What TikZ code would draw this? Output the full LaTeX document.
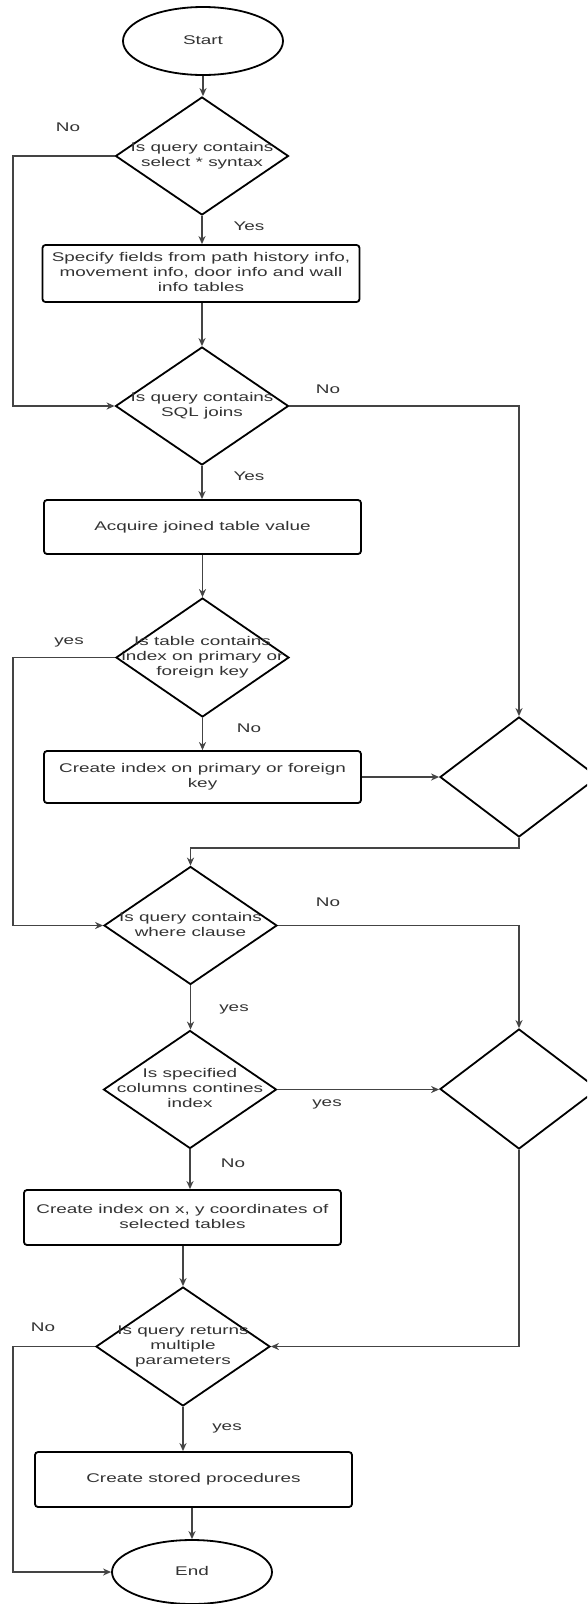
\documentclass[tikz,border=0pt]{standalone}
\usepackage{fontspec}
\setmainfont{Liberation Sans}
\usepackage{graphicx}
\usetikzlibrary{shapes.geometric,arrows.meta}
\definecolor{txtc}{HTML}{333333}
\definecolor{linec}{HTML}{444444}
\newcommand{\tx}[1]{\scalebox{1.5}[1]{\begin{tabular}{@{}c@{}}#1\end{tabular}}}
\begin{document}
\begin{tikzpicture}[x=1pt,y=-1pt,
  every node/.style={font=\fontsize{12.6}{15}\selectfont, text=txtc},
  shp/.style={draw=black, line width=1.8pt, fill=white, inner sep=0pt},
  box/.style={shp, rectangle, rounded corners=3pt, minimum width=317pt, minimum height=55pt},
  dia/.style={shp, diamond, minimum width=173pt, minimum height=118pt},
  rdia/.style={shp, diamond, minimum width=158pt, minimum height=120pt},
  term/.style={shp, ellipse, minimum width=160pt, minimum height=66pt},
  lab/.style={inner sep=0pt},
  conn/.style={draw=linec, line width=1.3pt, -{Stealth[length=8pt,width=7pt,inset=2.5pt]}}]
\useasboundingbox (0,0) rectangle (587,1604);
\fill[white] (0,0) rectangle (587,1604);
\clip (0,0) rectangle (587,1604);

% shapes
\node[term, minimum height=68pt] (start) at (203,41) {\tx{Start}};
\node[dia] (d1) at (202,156) {};
\node (t1) at (d1) {\tx{Is query contains\\select * syntax}};
\node[box, minimum height=57pt] (b1) at (201,273.5) {\tx{Specify fields from path history info,\\movement info, door info and wall\\info tables}};
\node[dia] (d2) at (202,406) {};
\node (t2) at (d2) {\tx{Is query contains\\SQL joins}};
\node[box, minimum height=54pt] (b2) at (202.5,527) {\tx{Acquire joined table value}};
\node[dia, minimum height=119pt] (d3) at (202.5,657.5) {};
\node (t3) at (d3) {\tx{Is table contains\\index on primary or\\foreign key}};
\node[box, minimum height=52pt] (b3) at (202.5,777) {\tx{Create index on primary or foreign\\key}};
\node[rdia] (r1) at (519,777) {};
\node[dia] (d4) at (190.5,925.5) {};
\node (t4) at (d4) {\tx{Is query contains\\where clause}};
\node[dia] (d5) at (190,1089.5) {};
\node (t5) at (d5) {\tx{Is specified\\columns contines\\index}};
\node[rdia] (r2) at (519,1089) {};
\node[box] (b4) at (182.5,1217.5) {\tx{Create index on x, y coordinates of\\selected tables}};
\node[dia, minimum width=174pt, minimum height=119pt] (d6) at (183,1346.5) {};
\node (t6) at (d6) {\tx{Is query returns\\multiple\\parameters}};
\node[box] (b5) at (193.5,1479.5) {\tx{Create stored procedures}};
\node[term, minimum height=64pt] (end) at (192,1572) {\tx{End}};

% helper coordinates
\coordinate (lx) at (13,0);
\coordinate (m1) at (0,848);

% connectors
\draw[conn] (start.south) -- (start.south |- d1.north);
\draw[conn] (d1.south) -- (d1.south |- b1.north);
\draw[conn] (d1.west) -- (d1.west -| lx) -- (d2.west -| lx) -- (d2.west);
\draw[conn] (d2.north |- b1.south) -- (d2.north);
\draw[conn] (d2.east) -- (d2.east -| r1.north) -- (r1.north);
\draw[conn] (d2.south) -- (d2.south |- b2.north);
\draw[conn] (b2.south) -- (b2.south |- d3.north);
\draw[conn] (d3.west) -- (d3.west -| lx) -- (d4.west -| lx) -- (d4.west);
\draw[conn] (d3.south) -- (d3.south |- b3.north);
\draw[conn] (b3.east) -- (b3.east -| r1.west);
\draw[conn] (r1.south) -- (r1.south |- m1) -- (d4.north |- m1) -- (d4.north);
\draw[conn] (d4.east) -- (d4.east -| r2.north) -- (r2.north);
\draw[conn] (d4.south) -- (d4.south |- d5.north);
\draw[conn] (d5.east) -- (d5.east -| r2.west);
\draw[conn] (d5.south) -- (d5.south |- b4.north);
\draw[conn] (d6.north |- b4.south) -- (d6.north);
\draw[conn] (r2.south) -- (r2.south |- d6.east) -- (d6.east);
\draw[conn] (d6.west) -- (d6.west -| lx) -- (end.west -| lx) -- (end.west);
\draw[conn] (d6.south) -- (d6.south |- b5.north);
\draw[conn] (end.north |- b5.south) -- (end.north);

% labels
\node[lab] (l1) at (68,128) {\tx{No}};
\node[lab] (l2) at (249,227) {\tx{Yes}};
\node[lab] (l3) at (328,390) {\tx{No}};
\node[lab] (l4) at (249,477) {\tx{Yes}};
\node[lab] (l5) at (69,641) {\tx{yes}};
\node[lab] (l6) at (249,729) {\tx{No}};
\node[lab] (l7) at (328,903) {\tx{No}};
\node[lab] (l8) at (234,1008) {\tx{yes}};
\node[lab] (l9) at (327,1103) {\tx{yes}};
\node[lab] (l10) at (233,1164) {\tx{No}};
\node[lab] (l11) at (43,1328) {\tx{No}};
\node[lab] (l12) at (227,1427) {\tx{yes}};
\end{tikzpicture}
\end{document}
